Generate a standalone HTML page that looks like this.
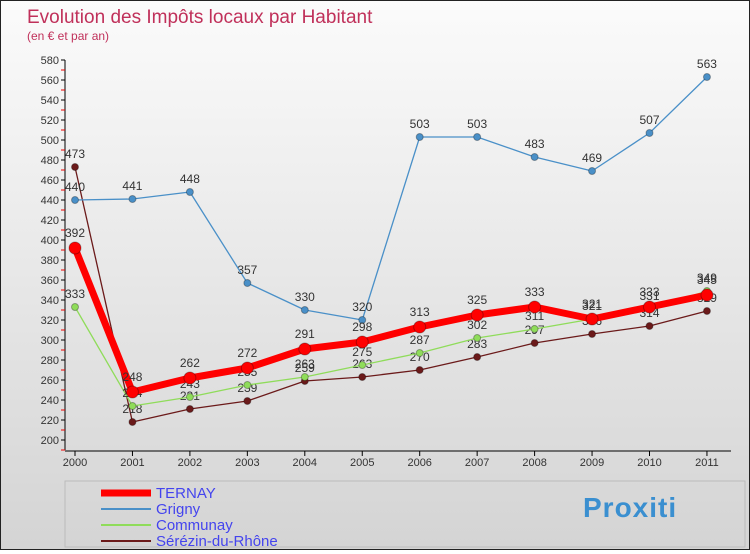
<!DOCTYPE html>
<html><head><meta charset="utf-8"><style>
body{margin:0;width:750px;height:550px;overflow:hidden;font-family:"Liberation Sans",sans-serif}
#wrap{position:relative;width:748px;height:548px;border:1px solid #222;background:linear-gradient(#fbfbfb,#d4d4d4)}
</style></head><body>
<div id="wrap">
<svg id="chart" width="748" height="548"></svg>
</div>
<script>
const years=["2000","2001","2002","2003","2004","2005","2006","2007","2008","2009","2010","2011"];
const yTicks=[200,220,240,260,280,300,320,340,360,380,400,420,440,460,480,500,520,540,560,580];
const ternay=[392,248,262,272,291,298,313,325,333,321,333,345];
const grigny=[440,441,448,357,330,320,503,503,483,469,507,563];
const communay=[333,234,243,255,263,275,287,302,311,321,331,349];
const serezin=[473,218,231,239,259,263,270,283,297,306,314,329];
const seriesNames=["TERNAY","Grigny","Communay","Sérézin-du-Rhône"];
const NS="http://www.w3.org/2000/svg";
const svg=document.getElementById('chart');
function X(i){return 74+i*57.45;}
function Y(v){return 439-(v-200);}
function el(t,a,p){const e=document.createElementNS(NS,t);for(const k in a)e.setAttribute(k,a[k]);(p||svg).appendChild(e);return e;}
function txt(x,y,s,a,p){const e=el('text',Object.assign({x:x,y:y},a),p);e.textContent=s;return e;}
const t1=txt(26,22,"Evolution des Impôts locaux par Habitant",{fill:"#c0305a","font-size":19});

const t2=txt(26,39,"(en € et par an)",{fill:"#c0305a","font-size":12});

const ax=el('g',{});
el('line',{x1:64,y1:Y(580),x2:64,y2:Y(200)+10,stroke:"#000"},ax);
yTicks.forEach(v=>{el('line',{x1:60,y1:Y(v),x2:64,y2:Y(v),stroke:"#000"},ax);
el('line',{x1:60,y1:Y(v)+10,x2:64,y2:Y(v)+10,stroke:"#e00"},ax);
const t=txt(58,Y(v)+4,String(v),{"text-anchor":"end","font-size":11,fill:"#333"},ax);
});
const xa=el('g',{});
el('line',{x1:64,y1:450,x2:730,y2:450,stroke:"#000"},xa);
years.forEach((y,i)=>{el('line',{x1:X(i),y1:450,x2:X(i),y2:455,stroke:"#000"},xa);
const t=txt(X(i),465,y,{"text-anchor":"middle","font-size":11,fill:"#333"},xa);
});
function series(data,color,w,r,name,labelDy){
const g=el('g',{});
el('polyline',{points:data.map((v,i)=>X(i)+","+Y(v)).join(" "),fill:"none",stroke:color,"stroke-width":w,"stroke-linejoin":"round"},g);
data.forEach((v,i)=>{const c=el('circle',{cx:X(i),cy:Y(v),r:r,fill:color,stroke:"rgba(0,0,0,0.3)"},g);

const t=txt(X(i),Y(v)+labelDy,String(v),{"text-anchor":"middle","font-size":12,fill:"#333"},g);
});}
series(serezin,"#6b1a1a",1.3,3.5,"serezin",-9);
series(communay,"#8fdc5a",1.3,3.5,"communay",-9);
series(grigny,"#4a90c8",1.3,3.5,"grigny",-9);
series(ternay,"#ff0000",7,6,"ternay",-11);
const lg=el('g',{});
el('rect',{x:64,y:480,width:680,height:66,fill:"none",stroke:"#bbb"},lg);
const cols=["#ff0000","#4a90c8","#8fdc5a","#6b1a1a"],ws=[7,2,2,2];
seriesNames.forEach((n,i)=>{const y=492+i*16;
el('line',{x1:100,y1:y,x2:150,y2:y,stroke:cols[i],"stroke-width":ws[i]},lg);
const t=txt(155,y+5,n,{"font-size":15,fill:"#4444ee"},lg);
});
const lo=txt(582,516,"Proxiti",{"font-size":28,"font-weight":"bold",fill:"#3a8fd0","letter-spacing":"1"});

</script>
</body></html>
